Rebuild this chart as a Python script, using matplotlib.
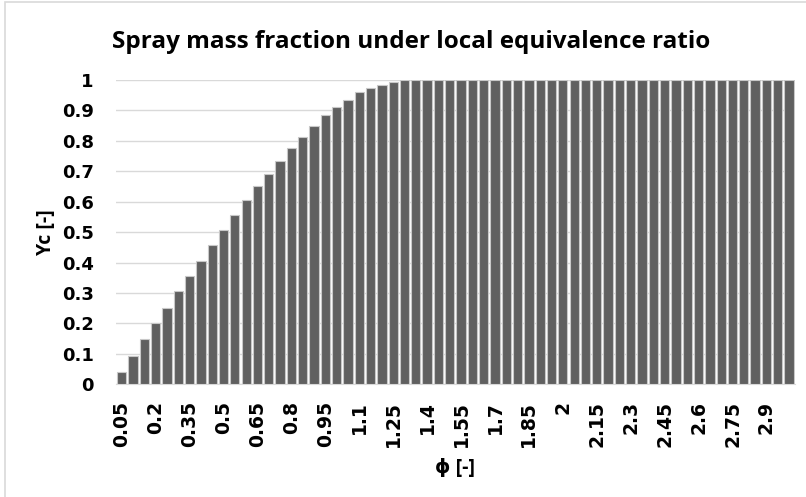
import matplotlib
matplotlib.use("Agg")
import matplotlib.pyplot as plt
import numpy as np

# equivalence ratio categories, 0.05 .. 3.0
phi_labels = ["%g" % (0.05 * i) for i in range(1, 61)]

# spray mass fraction
yc_rise = [0.039, 0.094, 0.148, 0.200, 0.251, 0.306, 0.356, 0.406, 0.457, 0.507,
           0.556, 0.604, 0.650, 0.691, 0.735, 0.777, 0.814, 0.849, 0.884, 0.911,
           0.935, 0.959, 0.973, 0.985, 0.995]
yc_flat = [1.0] * 35
yc_values = yc_rise + yc_flat

y_ticks = [0, 0.1, 0.2, 0.3, 0.4, 0.5, 0.6, 0.7, 0.8, 0.9, 1]
y_tick_labels = ["0", "0.1", "0.2", "0.3", "0.4", "0.5", "0.6", "0.7", "0.8", "0.9", "1"]

plt.rcParams['font.family'] = ['Open Sans', 'DejaVu Sans']

fig = plt.figure(figsize=(8.06, 4.97), dpi=100)
ax = fig.add_axes([0.144, 0.227, 0.842, 0.612])

x = np.arange(len(phi_labels))
ax.bar(x, yc_values, width=0.82, color='#606060', edgecolor='#c8c8c8', linewidth=0.8, zorder=3)

ax.set_xlim(-0.5, len(phi_labels) - 0.5)
ax.set_ylim(0, 1)
ax.set_yticks(y_ticks)
ax.set_yticklabels(y_tick_labels, fontsize=13, fontweight='bold', family='DejaVu Sans')
ax.set_xticks(x[::3])
ax.set_xticklabels(phi_labels[::3], rotation=90, fontsize=13.5, fontweight='bold',
                   family='DejaVu Sans')
ax.tick_params(axis='x', length=0, pad=12)
ax.tick_params(axis='y', length=0, pad=16)
ax.grid(axis='y', color='#d9d9d9', linewidth=1, zorder=0)

for side in ['top', 'right', 'left']:
    ax.spines[side].set_visible(False)
ax.spines['bottom'].set_color('#d9d9d9')

ax.set_ylabel("Yc [-]", fontsize=14, fontweight='bold', labelpad=4)
ax.set_xlabel("ϕ [-]", fontsize=14, fontweight='bold', labelpad=8)
fig.text(0.51, 0.915, "Spray mass fraction under local equivalence ratio",
         ha='center', va='center', fontsize=17.5, fontweight='bold')

# outer chart border
fig.patches.append(plt.Rectangle((0.006, -0.01), 1.1, 1.006, transform=fig.transFigure,
                                 fill=False, edgecolor='#d9d9d9', linewidth=1.2))

fig.savefig("out.png", dpi=100)
